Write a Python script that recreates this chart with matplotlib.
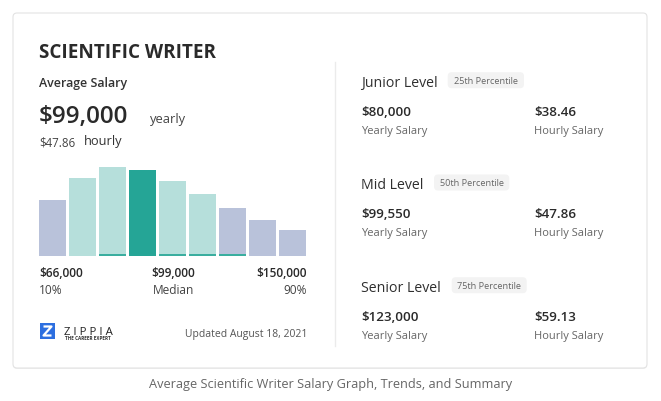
import matplotlib
matplotlib.use("Agg")
import matplotlib.pyplot as plt
from matplotlib.patches import FancyBboxPatch, Rectangle

plt.rcParams['font.family'] = ['Open Sans', 'DejaVu Sans']

# ---- data ----
bar_heights = [56, 78, 88.4, 86, 75, 61.4, 47.4, 35.4, 25.7]
bar_kinds = ['low', 'mid', 'mid', 'median', 'mid', 'mid', 'low', 'low', 'low']
bar_strip = [False, False, True, False, True, True, True, False, False]
axis_values = ["$66,000", "$99,000", "$150,000"]
axis_labels = ["10%", "Median", "90%"]
title = "SCIENTIFIC WRITER"
avg_yearly = "$99,000"
avg_hourly = "$47.86"
levels = ["Junior Level", "Mid Level", "Senior Level"]
percentiles = ["25th Percentile", "50th Percentile", "75th Percentile"]
level_yearly = ["$80,000", "$99,550", "$123,000"]
level_hourly = ["$38.46", "$47.86", "$59.13"]
updated = "Updated August 18, 2021"
caption = "Average Scientific Writer Salary Graph, Trends, and Summary"

W, H = 661, 402
fig = plt.figure(figsize=(W / 100, H / 100), dpi=100)
fig.patch.set_facecolor('white')
bg = fig.add_axes([0, 0, 1, 1])
bg.set_xlim(0, W)
bg.set_ylim(H, 0)
bg.axis('off')

# card
shadow = FancyBboxPatch((13, 15), 634, 355, boxstyle="round,pad=0,rounding_size=4",
                        fc='#f0f0f0', ec='none', zorder=0)
bg.add_patch(shadow)
card = FancyBboxPatch((13, 14), 634, 355, boxstyle="round,pad=0,rounding_size=4",
                      fc='white', ec='#e3e3e3', lw=0.8, zorder=1)
bg.add_patch(card)
bg.plot([335, 335], [63, 347], color='#ebebeb', lw=1, zorder=2)


def txt(x, y, s, size, weight='normal', color='#2a2a2a', ha='left', va='baseline', **kw):
    bg.text(x, y, s, fontsize=size, fontweight=weight, color=color, ha=ha,
            va=va, zorder=3, **kw)


txt(39, 58, title, 13.6, 'bold', '#2a2a2a')
txt(39, 87.5, "Average Salary", 8.9, 'semibold', '#333333')
txt(39, 123, avg_yearly, 17.5, 'semibold', '#2a2a2a')
txt(150, 123, "yearly", 9.3, 'normal', '#444444')
txt(39, 147, avg_hourly, 8.3, 'normal', '#444444')
txt(84, 145.5, "hourly", 9.3, 'normal', '#333333')

# axis labels under the chart
xs = [39, 173.5, 307]
has = ['left', 'center', 'right']
for x, v, l, ha in zip(xs, axis_values, axis_labels, has):
    txt(x, 276.7, v, 8.6, 'semibold', '#2a2a2a', ha=ha)
    txt(x, 294.3, l, 8.6, 'normal', '#444444', ha=ha)

# logo
bg.add_patch(Rectangle((40, 324), 15, 16, fc='#2d6fe0', ec='none', zorder=3))
bg.plot([43.5, 51.5, 43.5, 51.5], [327.5, 327.5, 336.5, 336.5], color='white',
        lw=1.6, zorder=4, solid_capstyle='butt')
txt(64.5, 335, "Z I P P I A", 8.2, 'normal', '#222222')
txt(65, 340.5, "THE CAREER EXPERT", 3.3, 'bold', '#333333')
txt(307, 337, updated, 7.5, 'normal', '#555555', ha='right')

# right side
level_y = [86.7, 189, 291.7]
badge_x = [447.7, 434, 451.7]
badge_w = [76.3, 75.3, 75]
for i in range(3):
    y = level_y[i]
    txt(361, y, levels[i], 10.2, 'normal', '#2f2f2f')
    bg.add_patch(FancyBboxPatch((badge_x[i], y - 13.5), badge_w[i], 16,
                                boxstyle="round,pad=0,rounding_size=4",
                                fc='#f3f3f3', ec='none', zorder=2))
    txt(badge_x[i] + badge_w[i] / 2, y - 5.5, percentiles[i], 6.6, 'normal', '#666666',
        ha='center', va='center')
    txt(361, y + 29, level_yearly[i], 9.6, 'semibold', '#2a2a2a')
    txt(361, y + 47.5, "Yearly Salary", 8.0, 'normal', '#666666')
    txt(534, y + 29, level_hourly[i], 9.6, 'semibold', '#2a2a2a')
    txt(534, y + 47.5, "Hourly Salary", 8.0, 'normal', '#666666')

txt(330.5, 388.3, caption, 9.2, 'normal', '#666666', ha='center')

# bar chart
left_px, right_px, bottom_px, top_px = 37.5, 307.5, 256.7, 156.7
ax = fig.add_axes([left_px / W, (H - bottom_px) / H, (right_px - left_px) / W,
                   (bottom_px - top_px) / H])
ax.set_xlim(-0.5, 8.5)
ax.set_ylim(0, 100)
ax.axis('off')
colors = {'low': '#b9c2da', 'mid': '#b6dfdb', 'median': '#25a596'}
xpos = list(range(len(bar_heights)))
ax.bar(xpos, bar_heights, width=0.9, color=[colors[k] for k in bar_kinds],
       edgecolor='none')
strip_x = [x for x, s in zip(xpos, bar_strip) if s]
ax.bar(strip_x, [2] * len(strip_x), width=0.9, color='#3aae9f', edgecolor='none')

fig.savefig('out.png', dpi=100, facecolor='white')
